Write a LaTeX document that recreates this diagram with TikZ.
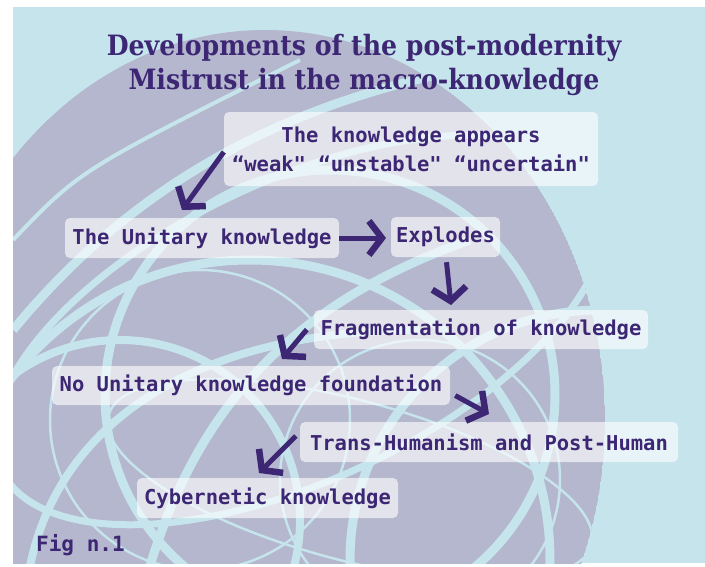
\documentclass[tikz,border=0pt]{standalone}
\usepackage{fontspec}
\usetikzlibrary{arrows.meta}
\newfontfamily\titlefont{DejaVu Serif Condensed}
\newfontfamily\boxfont{DejaVu Sans Mono}
\definecolor{bgblue}{HTML}{C5E4EB}
\definecolor{globe}{HTML}{B4B7CD}
\definecolor{ink}{HTML}{3D2774}
\begin{document}
\begin{tikzpicture}[x=1pt,y=-1pt,
  lbl/.style={fill=white,fill opacity=0.62,text opacity=1,rounded corners=5pt,inner sep=0pt,text=ink,
    font=\boxfont\bfseries\fontsize{20.5}{29}\selectfont,align=center},
  flow/.style={draw=ink,line width=5pt,-{Straight Barb[length=13pt,width=34pt,line width=6.5pt]}},
  orbit/.style={draw=bgblue,line width=9pt},
  thinorbit/.style={draw=bgblue,line width=2.5pt},
  titletext/.style={text=ink,font=\titlefont\bfseries\fontsize{28}{34}\selectfont,inner sep=0pt,anchor=base}]
\useasboundingbox (0,0) rectangle (705,566);
\fill[white] (0,0) rectangle (705,566);
\fill[bgblue] (13,7) rectangle (705,563);
\begin{scope}
  \clip (13,7) rectangle (705,563);
  \clip (265,420) ellipse [x radius=340, y radius=390];
  \fill[globe] (265,420) ellipse [x radius=340, y radius=390];
  \draw[orbit] (330,395) circle [radius=225];
  \draw[orbit] (250,560) circle [radius=300];
  \draw[orbit,line width=8pt] (120,520) circle [radius=180];
  \draw[orbit,line width=7pt,rotate around={25:(300,330)}] (300,330) ellipse [x radius=330, y radius=150];
  \draw[thinorbit] (420,480) circle [radius=140];
  \draw[orbit] (13,330) .. controls (120,200) and (260,110) .. (460,70);
  \draw[orbit,line width=4pt] (13,240) .. controls (80,170) .. (300,60);
  \draw[orbit] (150,566) .. controls (200,400) and (300,300) .. (470,240);
  \draw[orbit,line width=8pt] (30,566) .. controls (60,420) and (200,330) .. (420,330);
  \draw[orbit] (600,560) circle [radius=250];
  \draw[thinorbit] (200,420) circle [radius=150];
  \draw[thinorbit,rotate around={-15:(350,480)}] (350,480) ellipse [x radius=250, y radius=80];
\end{scope}
\node[titletext] (t1) at (364,55) {Developments of the post-modernity};
\node[titletext] (t2) at (364,89) {Mistrust in the macro-knowledge};
\node[lbl,minimum width=374pt,minimum height=74pt] (b1) at (411,149) {The knowledge appears\\“weak" “unstable" “uncertain"};
\node[lbl,minimum width=274pt,minimum height=40pt] (b2) at (202,238) {The Unitary knowledge};
\node[lbl,minimum width=109pt,minimum height=40pt] (b3) at (445.5,237) {Explodes};
\node[lbl,minimum width=334pt,minimum height=39pt] (b4) at (481,329.5) {Fragmentation of knowledge};
\node[lbl,minimum width=398pt,minimum height=39pt] (b5) at (251,385.5) {No Unitary knowledge foundation};
\node[lbl,minimum width=378pt,minimum height=40pt] (b6) at (489,442) {Trans-Humanism and Post-Human};
\node[lbl,minimum width=261pt,minimum height=40pt] (b7) at (267.5,498) {Cybernetic knowledge};
\node[text=ink,font=\boxfont\bfseries\fontsize{21}{25}\selectfont,inner sep=0pt,anchor=base west] (fig) at (36,551) {Fig n.1};
\coordinate (e1) at (182,210);
\coordinate (e2) at (386,238);
\coordinate (e3) at (451,305);
\coordinate (e4) at (282,359);
\coordinate (e5) at (489,414);
\coordinate (e6) at (259,473);
\draw[flow] ([yshift=-3pt]b1.west) -- (e1);
\draw[flow] (b2.east) -- (e2);
\draw[flow] ([xshift=1pt,yshift=-5pt]b3.south) -- (e3);
\draw[flow] ([xshift=-7pt]b4.west) -- (e4);
\draw[flow] ([xshift=5pt,yshift=-10pt]b5.east) -- (e5);
\draw[flow] ([xshift=-4pt,yshift=6pt]b6.west) -- (e6);
\end{tikzpicture}
\end{document}
